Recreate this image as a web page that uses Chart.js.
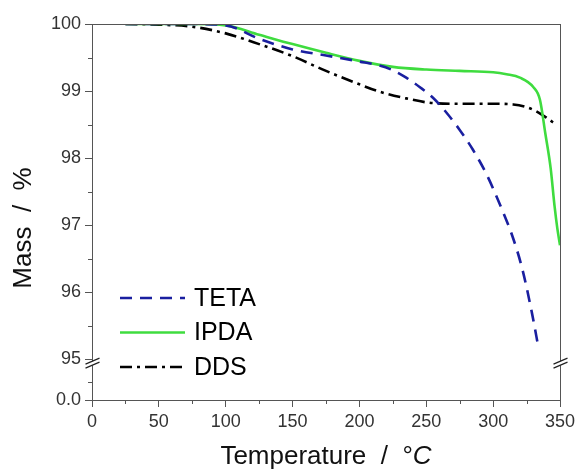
<!DOCTYPE html>
<html>
<head>
<meta charset="utf-8">
<script src="https://cdn.jsdelivr.net/npm/chart.js@4.4.1/dist/chart.umd.min.js"></script>
<style>
  html, body { margin: 0; padding: 0; background: #fff; }
  #wrap { width: 575px; height: 472px; }
</style>
</head>
<body>
<div id="wrap"><canvas id="tga"></canvas></div>
<script>
// TGA curves (temperature in °C, mass in %)
const tetaTemp = [25, 50, 75, 100, 125, 150, 175, 200, 215, 225, 235, 245, 255, 265, 275, 285, 295, 305, 315, 322, 329, 334];
const tetaMass = [100, 100, 100, 99.98, 99.78, 99.62, 99.53, 99.44, 99.38, 99.31, 99.2, 99.06, 98.9, 98.68, 98.42, 98.12, 97.76, 97.31, 96.8, 96.33, 95.69, 95.16];

const ipdaTemp = [25, 50, 75, 100, 125, 150, 175, 200, 225, 250, 275, 300, 310, 320, 330, 335, 339, 343, 346, 348, 350];
const ipdaMass = [100, 100, 100, 99.98, 99.84, 99.7, 99.57, 99.45, 99.36, 99.32, 99.3, 99.28, 99.25, 99.2, 99.06, 98.87, 98.37, 97.85, 97.27, 96.95, 96.7];

const ddsTemp = [25, 50, 75, 100, 125, 150, 175, 200, 215, 235, 255, 275, 300, 315, 325, 333, 340, 347];
const ddsMass = [100, 99.99, 99.96, 99.86, 99.7, 99.52, 99.3, 99.1, 98.99, 98.89, 98.82, 98.81, 98.81, 98.8, 98.76, 98.69, 98.6, 98.5];

const seriesNames = ['TETA', 'IPDA', 'DDS'];

// y axis is broken: 95..100 on top, "0.0" sits just below the break
const yMajor = [95, 96, 97, 98, 99, 100];
const yMinor = [94.66, 95.5, 96.5, 97.5, 98.5, 99.5];
const Y_ZERO = 94.39;
const Y_BREAK = 94.94;
const xMinor = [25, 75, 125, 175, 225, 275, 325];

const FONT = '"Liberation Sans", Arial, sans-serif';

function pts(t, m) {
    return t.map((v, i) => ({x: v, y: m[i]}));
}

const extras = {
    id: 'extras',
    afterDraw(chart) {
        const {ctx, chartArea: a, scales: {x, y}} = chart;
        ctx.save();

        // frame
        ctx.strokeStyle = '#555';
        ctx.lineWidth = 1;
        ctx.strokeRect(a.left + 0.5, a.top + 0.5, a.right - a.left, a.bottom - a.top);

        // minor ticks
        ctx.beginPath();
        xMinor.forEach(v => {
            let px = Math.round(x.getPixelForValue(v)) + 0.5;
            ctx.moveTo(px, a.bottom);
            ctx.lineTo(px, a.bottom + 4);
        });
        yMinor.forEach(v => {
            let py = Math.round(y.getPixelForValue(v)) + 0.5;
            ctx.moveTo(a.left, py);
            ctx.lineTo(a.left - 4, py);
        });
        ctx.stroke();

        // axis break marks, both sides
        let yb = y.getPixelForValue(Y_BREAK);
        [a.left + 0.5, a.right + 0.5].forEach(xb => {
            ctx.fillStyle = '#fff';
            ctx.beginPath();
            ctx.moveTo(xb - 7, yb + 1);
            ctx.lineTo(xb + 7, yb - 5);
            ctx.lineTo(xb + 7, yb - 1);
            ctx.lineTo(xb - 7, yb + 5);
            ctx.closePath();
            ctx.fill();
            ctx.strokeStyle = '#222';
            ctx.lineWidth = 1.2;
            ctx.beginPath();
            ctx.moveTo(xb - 7, yb + 1);
            ctx.lineTo(xb + 7, yb - 5);
            ctx.moveTo(xb - 7, yb + 5);
            ctx.lineTo(xb + 7, yb - 1);
            ctx.stroke();
        });

        // legend
        ctx.font = '25px ' + FONT;
        ctx.textBaseline = 'middle';
        ctx.fillStyle = '#000';
        chart.data.datasets.forEach((ds, i) => {
            let ly = 298 + i * 34.5;
            ctx.strokeStyle = ds.borderColor;
            ctx.lineWidth = ds.borderWidth;
            ctx.setLineDash(ds.borderDash || []);
            ctx.beginPath();
            ctx.moveTo(120, ly);
            ctx.lineTo(185, ly);
            ctx.stroke();
            ctx.setLineDash([]);
            ctx.fillText(ds.label, 194, ly + 1);
        });

        // axis titles
        ctx.fillStyle = '#111';
        ctx.font = '26px ' + FONT;
        ctx.textBaseline = 'middle';
        let t1 = 'Temperature  /  °', t2 = 'C';
        let w1 = ctx.measureText(t1).width;
        ctx.font = 'italic 26px ' + FONT;
        let w2 = ctx.measureText(t2).width;
        let cx = (a.left + a.right) / 2, sx = cx - (w1 + w2) / 2;
        ctx.font = '26px ' + FONT;
        ctx.textAlign = 'left';
        ctx.fillText(t1, sx, 457);
        ctx.font = 'italic 26px ' + FONT;
        ctx.fillText(t2, sx + w1, 457);

        ctx.translate(24, 228);
        ctx.rotate(-Math.PI / 2);
        ctx.font = '26px ' + FONT;
        ctx.textAlign = 'center';
        ctx.fillText('Mass  /  %', 0, 0);
        ctx.restore();
    }
};

new Chart(document.getElementById('tga'), {
    type: 'line',
    data: {
        datasets: [
            {
                label: seriesNames[0],
                data: pts(tetaTemp, tetaMass),
                borderColor: '#1a1fa0',
                borderWidth: 2.6,
                borderDash: [12, 8]
            },
            {
                label: seriesNames[1],
                data: pts(ipdaTemp, ipdaMass),
                borderColor: '#3fdc3f',
                borderWidth: 2.6
            },
            {
                label: seriesNames[2],
                data: pts(ddsTemp, ddsMass),
                borderColor: '#000',
                borderWidth: 2.6,
                borderDash: [12, 5, 3, 5]
            }
        ]
    },
    options: {
        responsive: true,
        maintainAspectRatio: false,
        animation: false,
        devicePixelRatio: 1,
        layout: {padding: {top: 24, right: 15, left: 0, bottom: 0}},
        elements: {
            point: {radius: 0},
            line: {cubicInterpolationMode: 'monotone', fill: false}
        },
        plugins: {
            legend: {display: false},
            tooltip: {enabled: false}
        },
        scales: {
            x: {
                type: 'linear',
                min: 0,
                max: 350,
                afterFit: s => { s.height = 72; s.paddingLeft = 0; s.paddingRight = 0; },
                ticks: {
                    stepSize: 50,
                    padding: 4,
                    color: '#333',
                    font: {family: FONT, size: 18}
                },
                grid: {display: true, drawOnChartArea: false, tickLength: 7, tickColor: '#555'},
                border: {display: false}
            },
            y: {
                min: Y_ZERO,
                max: 100,
                afterFit: s => { s.width = 92; },
                afterBuildTicks: s => {
                    s.ticks = [Y_ZERO].concat(yMajor).map(v => ({value: v}));
                },
                ticks: {
                    padding: 4,
                    color: '#333',
                    font: {family: FONT, size: 18},
                    callback: v => (v === Y_ZERO ? '0.0' : String(v))
                },
                grid: {display: true, drawOnChartArea: false, tickLength: 7, tickColor: '#555'},
                border: {display: false}
            }
        }
    },
    plugins: [extras]
});
</script>
</body>
</html>
